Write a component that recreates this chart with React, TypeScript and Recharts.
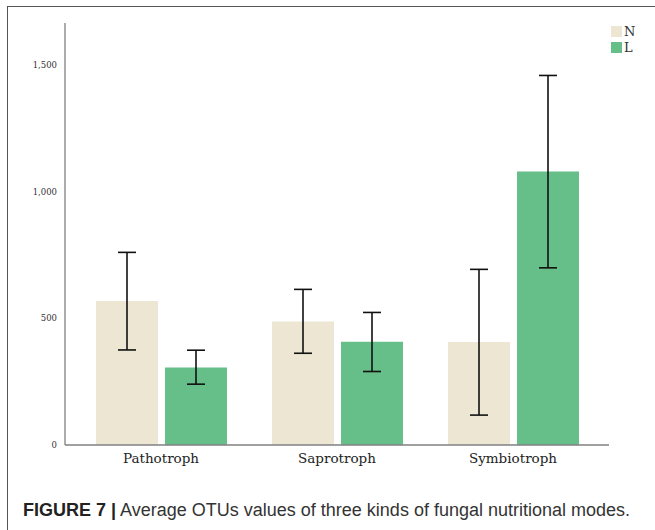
import { BarChart, Bar, XAxis, YAxis, ErrorBar } from 'recharts'

// mean OTU counts per nutritional mode, with the ends of each error bar
const categories = ['Pathotroph', 'Saprotroph', 'Symbiotroph']
const nMeans = [568, 487, 406]
const nLower = [375, 362, 118]
const nUpper = [760, 614, 693]
const lMeans = [306, 407, 1079]
const lLower = [240, 290, 699]
const lUpper = [374, 523, 1458]
const yTicks = [0, 500, 1000, 1500]

const seriesNames = ['N', 'L']
const seriesColors = ['#ece6d3', '#66be88']

// ErrorBar wants [minus, plus] offsets from the bar value
const data = categories.map((name, i) => ({
  name,
  N: nMeans[i],
  L: lMeans[i],
  nErr: [nMeans[i] - nLower[i], nUpper[i] - nMeans[i]],
  lErr: [lMeans[i] - lLower[i], lUpper[i] - lMeans[i]],
}))

const serif = '"DejaVu Serif", serif'

function LegendBox() {
  return (
    <div style={{ position: 'absolute', left: 611, top: 23, fontFamily: serif, fontSize: 13, color: '#333' }}>
      {seriesNames.map((s, i) => (
        <div key={s} style={{ display: 'flex', alignItems: 'center', height: 16 }}>
          <span style={{ width: 11, height: 11, background: seriesColors[i], marginRight: 2 }} />
          <span>{s}</span>
        </div>
      ))}
    </div>
  )
}

export default function App() {
  return (
    <div style={{ position: 'absolute', left: 0, top: 0, width: 655, height: 530, background: '#fff', overflow: 'hidden' }}>
      {/* figure frame, only left and top edges fall inside the page */}
      <div style={{
        position: 'absolute', left: 7, top: 6, width: 700, height: 600,
        borderLeft: '1.5px solid #555', borderTop: '1.5px solid #555',
      }} />
      <div style={{ position: 'absolute', left: 0, top: 0 }}>
        <BarChart
          width={655}
          height={480}
          data={data}
          margin={{ top: 23, right: 46, left: 8, bottom: 5 }}
          barSize={62}
          barGap={7}
        >
          <XAxis
            dataKey="name"
            height={30}
            padding={{ left: 8, right: 8 }}
            tickLine={false}
            axisLine={{ stroke: '#808080', strokeWidth: 1.3 }}
            tick={{ fontSize: 13.5, fill: '#222', fontFamily: serif }}
          />
          <YAxis
            width={57}
            domain={[0, 1665]}
            ticks={yTicks}
            tickLine={false}
            axisLine={{ stroke: '#808080', strokeWidth: 1.3 }}
            tickFormatter={(v: number) => v.toLocaleString('en-US')}
            tick={{ fontSize: 8.5, fill: '#333', fontFamily: serif }}
          />
          <Bar dataKey="N" fill={seriesColors[0]} isAnimationActive={false}>
            <ErrorBar dataKey="nErr" width={9} stroke="#111" strokeWidth={1.6} isAnimationActive={false} />
          </Bar>
          <Bar dataKey="L" fill={seriesColors[1]} isAnimationActive={false}>
            <ErrorBar dataKey="lErr" width={9} stroke="#111" strokeWidth={1.6} isAnimationActive={false} />
          </Bar>
        </BarChart>
      </div>
      <LegendBox />
      <div style={{
        position: 'absolute', left: 23, top: 500, fontFamily: '"Liberation Sans", Arial, sans-serif',
        fontSize: 18, color: '#333', whiteSpace: 'nowrap',
      }}>
        <b style={{ color: '#222' }}>FIGURE 7 |</b> Average OTUs values of three kinds of fungal nutritional modes.
      </div>
    </div>
  )
}
